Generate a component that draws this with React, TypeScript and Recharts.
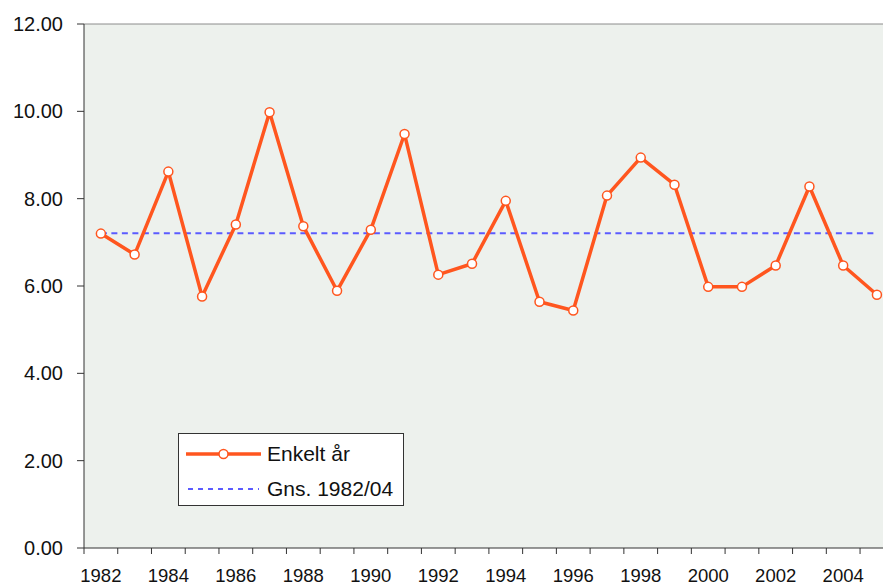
import { LineChart, Line, XAxis, YAxis, CartesianGrid, Legend, ReferenceLine } from 'recharts';

const years = [
  1982, 1983, 1984, 1985, 1986, 1987, 1988, 1989, 1990, 1991, 1992, 1993,
  1994, 1995, 1996, 1997, 1998, 1999, 2000, 2001, 2002, 2003, 2004, 2005,
];

// Enkelt år (single year values)
const enkeltAr = [
  7.2, 6.72, 8.62, 5.76, 7.41, 9.98, 7.37, 5.89, 7.29, 9.48, 6.26, 6.51,
  7.95, 5.64, 5.44, 8.07, 8.94, 8.32, 5.98, 5.98, 6.47, 8.28, 6.47, 5.8,
];

// Gns. 1982/04 (average)
const gns = 7.21;

const yTicks = [0, 2, 4, 6, 8, 10, 12];
const labelYears = [1982, 1984, 1986, 1988, 1990, 1992, 1994, 1996, 1998, 2000, 2002, 2004];

const X_MIN = 1981.5;
const X_MAX = 2005.18;

const ORANGE = '#ff561f';
const BLUE = '#5b5bff';
const AXIS = '#333333';
const FONT = '"Liberation Sans", Arial, Helvetica, sans-serif';

const data = years.map((year, i) => ({ year, value: enkeltAr[i], avg: gns }));

// tick marks sit between categories, labels at category centres
const markTicks = [years[0] - 0.5, ...years.map((y) => y + 0.5)].filter((t) => t <= X_MAX);
const xTicks = [...markTicks, ...labelYears].sort((a, b) => a - b);

function XTick(props: any) {
  const { x, y, payload } = props;
  const v = payload.value as number;
  if (v % 1 !== 0) {
    return <line x1={x} y1={y} x2={x} y2={y + 6} stroke={AXIS} strokeWidth={1} />;
  }
  return (
    <text x={x} y={y + 34} textAnchor="middle" fontSize={18.5} fontFamily={FONT} fill="#111">
      {v}
    </text>
  );
}

function LegendBox(props: any) {
  const { payload } = props;
  return (
    <div
      style={{
        position: 'relative',
        width: 224,
        height: 71,
        background: '#ffffff',
        border: '1px solid #333',
        fontFamily: FONT,
        fontSize: 21,
        color: '#111',
      }}
    >
      {(payload || []).map((entry: any, i: number) => {
        const dashed = entry.dataKey === 'avg';
        return (
          <div
            key={entry.value}
            style={{
              position: 'absolute',
              left: 0,
              top: i === 0 ? 6 : 41,
              height: 28,
              display: 'flex',
              alignItems: 'center',
            }}
          >
            <svg width={88} height={28} style={{ display: 'block' }}>
              {dashed ? (
                <line x1={9} y1={14} x2={80} y2={14} stroke={BLUE} strokeWidth={2} strokeDasharray="5 5" />
              ) : (
                <>
                  <line x1={7} y1={14} x2={82} y2={14} stroke={ORANGE} strokeWidth={3.5} />
                  <circle cx={44.5} cy={14} r={4.5} fill="#fff" stroke={ORANGE} strokeWidth={1.5} />
                </>
              )}
            </svg>
            <span style={{ whiteSpace: 'nowrap' }}>{entry.value}</span>
          </div>
        );
      })}
    </div>
  );
}

export default function App() {
  return (
    <div style={{ position: 'absolute', left: 0, top: 0, width: 883, height: 584, overflow: 'hidden', background: '#fff' }}>
      <LineChart width={883} height={584} data={data} margin={{ top: 24, right: 0, bottom: 0, left: 0 }}>
        <CartesianGrid horizontal={false} vertical={false} fill="#edf1ed" />
        <XAxis
          dataKey="year"
          type="number"
          domain={[X_MIN, X_MAX]}
          ticks={xTicks}
          interval={0}
          tick={<XTick />}
          tickLine={false}
          tickSize={0}
          tickMargin={0}
          axisLine={{ stroke: AXIS, strokeWidth: 1 }}
          height={36}
        />
        <YAxis
          type="number"
          domain={[0, 12]}
          ticks={yTicks}
          interval={0}
          width={84}
          tickFormatter={(v: number) => v.toFixed(2)}
          tick={{ fontSize: 20, fontFamily: FONT, fill: '#111' }}
          tickSize={7}
          tickMargin={14}
          tickLine={{ stroke: AXIS }}
          axisLine={{ stroke: AXIS, strokeWidth: 1 }}
        />
        <ReferenceLine y={12} stroke="#8c8c8c" strokeWidth={1} />
        <Legend
          layout="vertical"
          align="center"
          verticalAlign="middle"
          content={<LegendBox />}
          wrapperStyle={{ position: 'absolute', left: 178, top: 433, width: 226, height: 73 }}
        />
        <Line
          dataKey="avg"
          name="Gns. 1982/04"
          stroke={BLUE}
          strokeWidth={2}
          strokeDasharray="6 4.5"
          dot={false}
          activeDot={false}
          isAnimationActive={false}
        />
        <Line
          dataKey="value"
          name="Enkelt år"
          stroke={ORANGE}
          strokeWidth={3.5}
          strokeLinejoin="round"
          dot={{ r: 4.5, fill: '#ffffff', stroke: ORANGE, strokeWidth: 1.5 }}
          activeDot={false}
          isAnimationActive={false}
        />
      </LineChart>
    </div>
  );
}
